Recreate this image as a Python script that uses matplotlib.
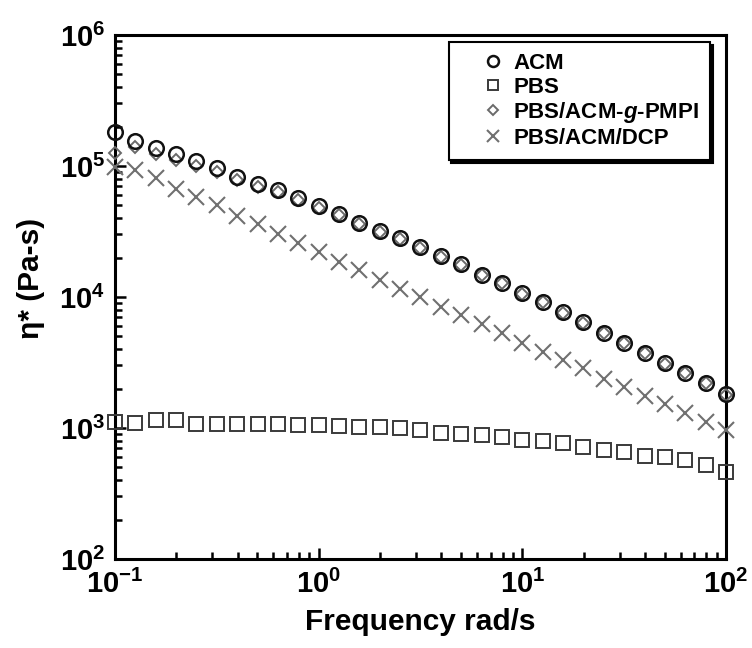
import numpy as np
import matplotlib
matplotlib.use("Agg")
import matplotlib.pyplot as plt
from matplotlib.ticker import LogLocator, LogFormatterMathtext, NullFormatter

plt.rcParams["font.family"] = ["Liberation Sans", "DejaVu Sans"]
plt.rcParams["font.weight"] = "bold"
plt.rcParams["mathtext.fontset"] = "custom"
plt.rcParams["mathtext.rm"] = "Liberation Sans:bold"
plt.rcParams["mathtext.bf"] = "Liberation Sans:bold"
plt.rcParams["mathtext.it"] = "Liberation Sans:italic"
plt.rcParams["axes.unicode_minus"] = False

# angular frequency, 10 points per decade (rad/s)
freq = 10 ** (np.arange(31) / 10 - 1)

# complex viscosity eta* (Pa-s)
acm = [181000, 156000, 138000, 123600, 109000, 95900, 82800, 72900, 65600, 56600,
       49500, 43100, 36900, 31900, 28400, 23900, 20600, 17800, 14700, 12850,
       10670, 9200, 7640, 6410, 5330, 4480, 3760, 3120, 2620, 2190, 1810]
pbs = [1120, 1100, 1150, 1150, 1070, 1070, 1070, 1070, 1070, 1055,
       1055, 1035, 1023, 1012, 993, 966, 910, 900, 885, 859,
       809, 800, 773, 719, 679, 659, 611, 604, 570, 522, 465]
pbs_g = [125600, 140300, 123000, 111200, 100000, 90400, 78500, 69200, 63100, 54700,
         48100, 41900, 36100, 31300, 27900, 23600, 20300, 17600, 14600, 12700,
         10600, 9140, 7590, 6380, 5310, 4460, 3740, 3100, 2610, 2190, 1800]
pbs_dcp = [97700, 93100, 80500, 66700, 58300, 50400, 41500, 36100, 30300, 26000,
           22200, 18600, 16100, 13500, 11600, 9950, 8430, 7290, 6220, 5330,
           4480, 3820, 3300, 2860, 2370, 2050, 1750, 1520, 1310, 1120, 966]

fig = plt.figure(figsize=(7.52, 6.48), dpi=100)
ax = fig.add_axes([115 / 752, 1 - 559 / 648, 611 / 752, 524 / 648])

ax.plot(freq, pbs, ls="none", marker="s", ms=9.5, mfc="none", mec="#3a3a3a",
        mew=1.4, label="PBS", clip_on=False, zorder=3)
ax.plot(freq, pbs_dcp, ls="none", marker="x", ms=11.5, mec="#707070",
        mew=1.5, label="PBS/ACM/DCP", clip_on=False, zorder=3)
ax.plot(freq, pbs_g, ls="none", marker="D", ms=6.5, mfc="none", mec="#6a6a6a",
        mew=1.4, label=r"PBS/ACM-$\mathit{g}$-PMPI", clip_on=False, zorder=4)
ax.plot(freq, acm, ls="none", marker="o", ms=10.5, mfc="none", mec="#111111",
        mew=1.8, label="ACM", clip_on=False, zorder=5)

ax.set_xscale("log")
ax.set_yscale("log")
ax.set_xlim(0.1, 100)
ax.set_ylim(1e2, 1e6)

for axis in (ax.xaxis, ax.yaxis):
    axis.set_major_locator(LogLocator(base=10, numticks=10))
    axis.set_minor_locator(LogLocator(base=10, subs=np.arange(2, 10), numticks=20))
    axis.set_major_formatter(LogFormatterMathtext())
    axis.set_minor_formatter(NullFormatter())

ax.tick_params(which="both", direction="in", top=False, right=False,
               width=1.8, labelsize=21)
ax.tick_params(which="major", length=8)
ax.tick_params(which="minor", length=5)
ax.tick_params(axis="y", pad=7)
ax.tick_params(axis="x", pad=8)
for sp in ax.spines.values():
    sp.set_linewidth(2.2)

ax.set_xlabel("Frequency rad/s", fontsize=21.5, fontweight="bold", labelpad=6)
ax.set_ylabel("η* (Pa-s)", fontsize=21.5, fontweight="bold", labelpad=10)
ax.yaxis.set_label_coords(-0.115, 0.535)

handles, labels = ax.get_legend_handles_labels()
order = [3, 0, 2, 1]
leg = ax.legend([handles[i] for i in order], [labels[i] for i in order],
                loc="upper right", bbox_to_anchor=(0.974, 0.987),
                borderaxespad=0.0,
                fontsize=16, markerscale=0.75, numpoints=1,
                handlelength=3.0, handletextpad=-0.6, labelspacing=0.12,
                borderpad=0.5, fancybox=False, frameon=True,
                edgecolor="black", shadow={"color": "black", "alpha": 1.0})
leg.get_frame().set_linewidth(1.5)

fig.savefig("out.png", dpi=100)
